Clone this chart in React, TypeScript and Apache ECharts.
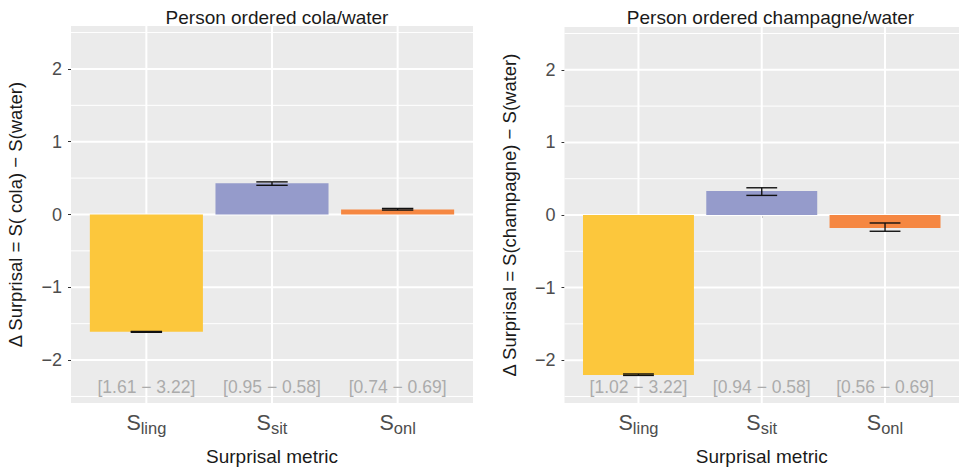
import React, { useEffect, useRef } from 'react';
import * as echarts from 'echarts';

const metrics = ['ling', 'sit', 'onl'];
const barColors = ['#FCC73C', '#959BCB', '#F58742'];

const colaMeans = [-1.612, 0.43, 0.068];
const colaLow = [-1.618, 0.401, 0.062];
const colaHigh = [-1.606, 0.448, 0.084];
const colaRanges = ['[1.61 − 3.22]', '[0.95 − 0.58]', '[0.74 − 0.69]'];

const champMeans = [-2.205, 0.33, -0.178];
const champLow = [-2.21, 0.27, -0.224];
const champHigh = [-2.19, 0.375, -0.11];
const champRanges = ['[1.02 − 3.22]', '[0.94 − 0.58]', '[0.56 − 0.69]'];

const yTicks = [-2, -1, 0, 1, 2];
const yMinor = [-2.5, -1.5, -0.5, 0.5, 1.5, 2.5];
const xPositions = [1, 2, 3];
const annotY = -2.37;

const panelTitles = ['Person ordered cola/water', 'Person ordered champagne/water'];
const yTitles = ['Δ Surprisal = S( cola) − S(water)', 'Δ Surprisal = S(champagne) − S(water)'];
const xTitle = 'Surprisal metric';

const FONT = '"Liberation Sans", Arial, Helvetica, sans-serif';

function hLineSeries(gi: number, values: number[], width: number) {
  return {
    type: 'custom',
    xAxisIndex: gi,
    yAxisIndex: gi,
    z: 1,
    silent: true,
    data: values.map((v) => [1, v]),
    renderItem: (params: any, api: any) => {
      const cs = params.coordSys;
      const y = api.coord([1, api.value(1)])[1];
      return {
        type: 'line',
        shape: { x1: cs.x, y1: y, x2: cs.x + cs.width, y2: y },
        style: { stroke: '#FFFFFF', lineWidth: width },
      };
    },
  };
}

function vLineSeries(gi: number) {
  return {
    type: 'custom',
    xAxisIndex: gi,
    yAxisIndex: gi,
    z: 1,
    silent: true,
    data: xPositions.map((x) => [x, 0]),
    renderItem: (params: any, api: any) => {
      const cs = params.coordSys;
      const x = api.coord([api.value(0), 0])[0];
      return {
        type: 'line',
        shape: { x1: x, y1: cs.y, x2: x, y2: cs.y + cs.height },
        style: { stroke: '#FFFFFF', lineWidth: 2 },
      };
    },
  };
}

function barSeries(gi: number, means: number[]) {
  return {
    type: 'custom',
    xAxisIndex: gi,
    yAxisIndex: gi,
    z: 2,
    data: means.map((m, i) => [xPositions[i], m]),
    renderItem: (params: any, api: any) => {
      const x = api.value(0);
      const v = api.value(1);
      const p1 = api.coord([x - 0.45, Math.max(v, 0)]);
      const p2 = api.coord([x + 0.45, Math.min(v, 0)]);
      return {
        type: 'rect',
        shape: { x: p1[0], y: p1[1], width: p2[0] - p1[0], height: p2[1] - p1[1] },
        style: { fill: barColors[params.dataIndex] },
      };
    },
  };
}

function errorSeries(gi: number, low: number[], high: number[]) {
  return {
    type: 'custom',
    xAxisIndex: gi,
    yAxisIndex: gi,
    z: 3,
    data: low.map((l, i) => [xPositions[i], l, high[i]]),
    encode: { x: 0, y: [1, 2] },
    renderItem: (params: any, api: any) => {
      const x = api.value(0);
      const lo = api.coord([x, api.value(1)]);
      const hi = api.coord([x, api.value(2)]);
      const left = api.coord([x - 0.125, 0])[0];
      const right = api.coord([x + 0.125, 0])[0];
      const st = { stroke: '#111111', lineWidth: 1.4 };
      return {
        type: 'group',
        children: [
          { type: 'line', shape: { x1: lo[0], y1: lo[1], x2: hi[0], y2: hi[1] }, style: st },
          { type: 'line', shape: { x1: left, y1: lo[1], x2: right, y2: lo[1] }, style: st },
          { type: 'line', shape: { x1: left, y1: hi[1], x2: right, y2: hi[1] }, style: st },
        ],
      };
    },
  };
}

function annotSeries(gi: number, labels: string[]) {
  return {
    type: 'custom',
    xAxisIndex: gi,
    yAxisIndex: gi,
    z: 4,
    silent: true,
    data: labels.map((_, i) => [xPositions[i], annotY]),
    renderItem: (params: any, api: any) => {
      const p = api.coord([api.value(0), api.value(1)]);
      return {
        type: 'text',
        x: p[0],
        y: p[1],
        style: {
          text: labels[params.dataIndex],
          fill: '#ABABAB',
          fontSize: 17.5,
          fontFamily: FONT,
          align: 'center',
          verticalAlign: 'middle',
        },
      };
    },
  };
}

export default function App() {
  const ref = useRef<HTMLDivElement>(null);
  useEffect(() => {
    if (!ref.current) return;
    const chart = echarts.init(ref.current, undefined, { renderer: 'svg' });
    const grids = [
      { left: 71, top: 26, width: 402, height: 378 },
      { left: 564.5, top: 27, width: 402, height: 378 },
    ];
    const option: any = {
      animation: false,
      backgroundColor: '#FFFFFF',
      textStyle: { fontFamily: FONT },
      title: panelTitles.map((t, i) => ({
        text: t,
        left: grids[i].left + grids[i].width / 2,
        top: 3,
        textAlign: 'center',
        textStyle: { fontSize: 19, fontWeight: 'normal', color: '#1A1A1A', fontFamily: FONT },
      })),
      grid: grids.map((g) => ({
        ...g,
        show: true,
        backgroundColor: '#EBEBEB',
        borderWidth: 0,
        containLabel: false,
      })),
      xAxis: grids.map((_, i) => ({
        type: 'value',
        gridIndex: i,
        min: 0.4,
        max: 3.6,
        axisLine: { show: false },
        splitLine: { show: false },
        axisTick: { show: true, customValues: xPositions, length: 3, lineStyle: { color: '#333333', width: 1 } },
        axisLabel: {
          customValues: xPositions,
          margin: 6,
          formatter: (v: number) => `{a|S}{b|${metrics[Math.round(v) - 1]}}`,
          rich: {
            a: { fontSize: 21.5, color: '#4D4D4D', fontFamily: FONT },
            b: { fontSize: 16.5, color: '#4D4D4D', fontFamily: FONT, padding: [10, 0, 0, 0] },
          },
        },
        name: xTitle,
        nameLocation: 'middle',
        nameGap: 44,
        nameTextStyle: { fontSize: 19, color: '#1A1A1A', fontFamily: FONT },
      })),
      yAxis: grids.map((_, i) => ({
        type: 'value',
        gridIndex: i,
        min: -2.59,
        max: 2.59,
        axisLine: { show: false },
        splitLine: { show: false },
        axisTick: { show: true, customValues: yTicks, length: 3, lineStyle: { color: '#333333', width: 1 } },
        axisLabel: {
          customValues: yTicks,
          margin: 9,
          fontSize: 18,
          color: '#4D4D4D',
          fontFamily: FONT,
          formatter: (v: number) => String(v).replace('-', '−'),
        },
        name: yTitles[i],
        nameLocation: 'middle',
        nameGap: 46,
        nameRotate: 90,
        nameTextStyle: { fontSize: 18.5, color: '#1A1A1A', fontFamily: FONT },
      })),
      series: [0, 1].flatMap((gi) => [
        hLineSeries(gi, yMinor, 1),
        hLineSeries(gi, yTicks, 2),
        vLineSeries(gi),
        barSeries(gi, gi === 0 ? colaMeans : champMeans),
        errorSeries(gi, gi === 0 ? colaLow : champLow, gi === 0 ? colaHigh : champHigh),
        annotSeries(gi, gi === 0 ? colaRanges : champRanges),
      ]),
    };
    chart.setOption(option);
    return () => chart.dispose();
  }, []);
  return (
    <div
      ref={ref}
      style={{ position: 'absolute', left: 0, top: 0, width: 959, height: 471 }}
    />
  );
}
